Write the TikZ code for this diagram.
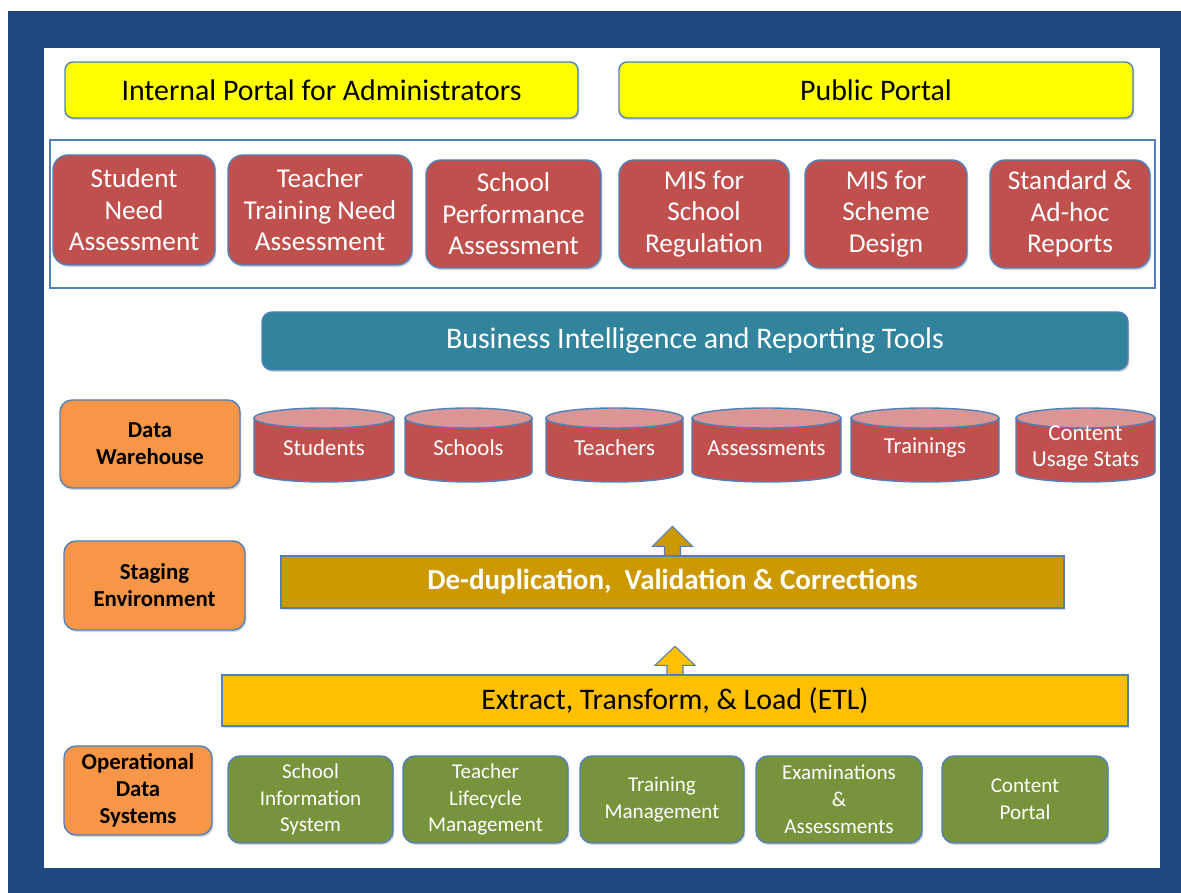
\documentclass[tikz,border=0pt]{standalone}
\usepackage{fontspec}
\setmainfont{Carlito}
\usetikzlibrary{shadows}
\definecolor{frameblue}{HTML}{1F497D}
\definecolor{bordblue}{HTML}{4F81BD}
\definecolor{yel}{HTML}{FFFF00}
\definecolor{redc}{HTML}{C0504D}
\definecolor{pinkc}{HTML}{D99694}
\definecolor{tealc}{HTML}{31849B}
\definecolor{orangec}{HTML}{F79646}
\definecolor{goldc}{HTML}{CC9900}
\definecolor{etlc}{HTML}{FFC000}
\definecolor{greenc}{HTML}{77933C}
\newcommand\dbcyl[4]{%
  \pgfmathsetmacro\cylcx{(#2+#3)/2}%
  \pgfmathsetmacro\cylrx{(#3-#2)/2*0.02}%
  \filldraw[fill=redc, draw=bordblue, line width=0.8pt] (#2,475) -- (#2,421) arc[start angle=180, end angle=360, x radius=\cylrx cm, y radius=0.2cm] -- (#3,475) -- cycle;
  \filldraw[fill=pinkc, draw=bordblue, line width=0.8pt] (\cylcx,475) ellipse [x radius=\cylrx cm, y radius=0.2cm];
  \node[cyltext] (#1) at (\cylcx,445) {#4};
}
\begin{document}
\begin{tikzpicture}[x=0.02cm, y=0.02cm,
  sz/.style 2 args={minimum width=#1*0.02cm, minimum height=#2*0.02cm},
  box/.style={draw=bordblue, line width=0.8pt, inner sep=0pt, align=center,
    drop shadow={opacity=0.3, shadow xshift=0.8pt, shadow yshift=-1.2pt}},
  ybox/.style={box, fill=yel, rounded corners=0.16cm, font=\fontsize{17}{20}\selectfont},
  rbox/.style={box, fill=redc, rounded corners=0.3cm, text=white, font=\fontsize{15.5}{18}\selectfont},
  obox/.style={box, fill=orangec, rounded corners=0.24cm, font=\fontsize{13}{15.3}\selectfont\bfseries},
  gbox/.style={box, fill=greenc, rounded corners=0.24cm, text=white, font=\fontsize{12}{15.3}\selectfont},
  cyltext/.style={inner sep=0pt, align=center, text=white, font=\fontsize{13}{15.3}\selectfont},
  upar/.style={fill=#1, draw=bordblue, line width=0.6pt}
]
\useasboundingbox (0,0) rectangle (1181,893);
\fill[frameblue] (8,0) rectangle (1181,882);
\fill[white] (44,25) rectangle (1160,845);

% portals
\node[ybox, sz={513}{56}] (ipa) at (321.5,803) {Internal Portal for Administrators};
\node[ybox, sz={514}{56}] (pub) at (876,803) {Public Portal};

% module frame
\node[draw=bordblue, line width=1.6pt, sz={1105}{148}, inner sep=0pt] (mods) at (602.5,679) {};
\node[rbox, sz={162}{110}] (sna) at (134,683) {Student\\Need\\Assessment};
\node[rbox, sz={184}{110}] (ttna) at (320,683) {Teacher\\Training Need\\Assessment};
\node[rbox, sz={175}{108}] (spa) at (513.5,679) {School\\Performance\\Assessment};
\node[rbox, sz={170}{108}] (misr) at (704,679) {MIS for\\School\\Regulation};
\node[rbox, sz={162}{108}] (miss) at (886,679) {MIS for\\Scheme\\Design};
\node[rbox, sz={160}{108}] (rep) at (1070,679) {Standard \&\\Ad-hoc\\Reports};

% BI
\node[box, fill=tealc, rounded corners=0.2cm, text=white, sz={866}{58},
  font=\fontsize{17}{20}\selectfont] (bi) at (695,552) {Business Intelligence and Reporting Tools};

% data warehouse
\node[obox, sz={180}{88}] (dw) at (150,449) {Data\\Warehouse};
\dbcyl{students}{254}{394}{Students}
\dbcyl{schools}{405}{532}{Schools}
\dbcyl{teachers}{546}{683}{Teachers}
\dbcyl{assess}{692}{841}{Assessments}
\dbcyl{trainings}{851}{999}{Trainings}
\dbcyl{content}{1016}{1155}{Content\\Usage Stats}

% staging
\node[obox, sz={181}{89}] (stg) at (154.5,307.5) {Staging\\Environment};
\node[box, fill=goldc, text=white, sz={783}{52}, font=\fontsize{16.5}{19}\selectfont\bfseries]
  (dedup) at (672.5,311) {De-duplication,\ \ Validation \& Corrections};
\filldraw[upar=goldc] (dedup.north) ++(-8,0) -- ++(0,9) -- ++(-12,0) -- ++(20,20) -- ++(20,-20) -- ++(-12,0) -- ++(0,-9) -- cycle;

% ETL
\node[box, fill=etlc, sz={906}{51}, font=\fontsize{17}{20}\selectfont]
  (etl) at (675,192.5) {Extract, Transform, \& Load (ETL)};
\filldraw[upar=etlc] (etl.north) ++(-8,0) -- ++(0,9) -- ++(-12,0) -- ++(20,19) -- ++(20,-19) -- ++(-12,0) -- ++(0,-9) -- cycle;

% operational
\node[obox, sz={148}{89}] (ods) at (138,102.5) {Operational\\Data\\Systems};
\node[gbox, sz={165}{87}] (sis) at (310.5,93.5) {School\\Information\\System};
\node[gbox, sz={165}{87}] (tlm) at (485.5,93.5) {Teacher\\Lifecycle\\Management};
\node[gbox, sz={164}{87}] (tm) at (662,93.5) {Training\\Management};
\node[gbox, sz={166}{87}] (exa) at (839,93.5) {Examinations\\\&\\Assessments};
\node[gbox, sz={166}{87}] (cp) at (1025,93.5) {Content\\Portal};
\end{tikzpicture}
\end{document}
